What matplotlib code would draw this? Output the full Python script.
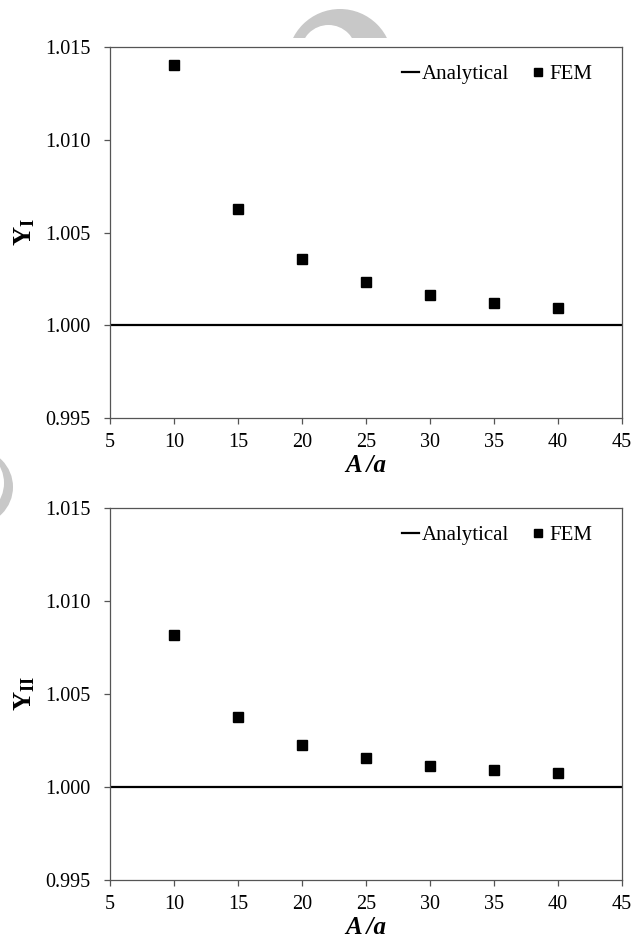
"""Y_I / Y_II vs A/a : analytical vs FEM (two stacked panels)"""
import matplotlib
matplotlib.use('Agg')
import matplotlib.pyplot as plt
from matplotlib.patches import Circle, Rectangle

plt.rcParams['font.family'] = ['Liberation Serif', 'DejaVu Serif']
plt.rcParams['mathtext.fontset'] = 'custom'
plt.rcParams['mathtext.rm'] = 'Liberation Serif'
plt.rcParams['mathtext.bf'] = 'Liberation Serif:bold'
plt.rcParams['mathtext.it'] = 'Liberation Serif:italic'

# ---- data ----
ratio = [10, 15, 20, 25, 30, 35, 40]
fem_mode1 = [1.01402, 1.00628, 1.00357, 1.00233, 1.00165, 1.00120, 1.00095]
fem_mode2 = [1.00819, 1.00378, 1.00228, 1.00154, 1.00115, 1.00093, 1.00073]
analytical = 1.000
ylabels = [r'$\mathbf{Y}_{\mathbf{I}}$', r'$\mathbf{Y}_{\mathbf{II}}$']

W, H = 636, 940
fig = plt.figure(figsize=(W / 100, H / 100), dpi=100)
fig.patch.set_facecolor('white')

# watermark (grey crescents) behind the plots
bg = fig.add_axes([0, 0, 1, 1], zorder=-5)
bg.set_xlim(0, W)
bg.set_ylim(H, 0)
bg.axis('off')
wm = '#c8c8c8'
bg.add_patch(Circle((340, 61.5), 52.5, color=wm, lw=0))
bg.add_patch(Circle((328.5, 52.7), 27.7, color='white', lw=0))
bg.add_patch(Rectangle((250, 38), 200, 30, color='white', lw=0))
bg.add_patch(Circle((-25, 487), 38, color=wm, lw=0))
bg.add_patch(Circle((-31, 483), 35, color='white', lw=0))

spine_c = '#555555'

def panel(rect, yvals, ylabel):
    ax = fig.add_axes(rect)
    ax.plot([5, 45], [analytical, analytical], color='black', lw=1.6,
            label='Analytical', zorder=2)
    ax.plot(ratio, yvals, ls='none', marker='s', ms=6.5, color='black',
            label='FEM', zorder=3)
    ax.set_xlim(5, 45)
    ax.set_ylim(0.995, 1.015)
    ax.set_xticks(range(5, 46, 5))
    ax.set_yticks([0.995, 1.000, 1.005, 1.010, 1.015])
    ax.set_yticklabels(['0.995', '1.000', '1.005', '1.010', '1.015'])
    for s in ax.spines.values():
        s.set_color(spine_c)
        s.set_linewidth(0.9)
    ax.tick_params(direction='out', length=4, width=0.9, color=spine_c,
                   labelsize=14.5)
    ax.tick_params(axis='x', pad=7)
    ax.tick_params(axis='y', pad=10)
    ax.set_xlabel('A /a', fontsize=18, fontweight='bold', fontstyle='italic',
                  labelpad=1)
    ax.set_ylabel(ylabel, fontsize=19, labelpad=6)
    ax.legend(loc='upper right', ncol=2, frameon=False, fontsize=15,
              handlelength=0.8, handletextpad=0.15, columnspacing=1.0,
              borderaxespad=0.4, markerscale=0.9, bbox_to_anchor=(0.975, 0.998))
    return ax

panel([110 / W, 1 - 418 / H, 512 / W, 371 / H], fem_mode1, ylabels[0])
panel([110 / W, 1 - 880 / H, 512 / W, 372 / H], fem_mode2, ylabels[1])

fig.savefig('out.png', dpi=100, facecolor='white')
